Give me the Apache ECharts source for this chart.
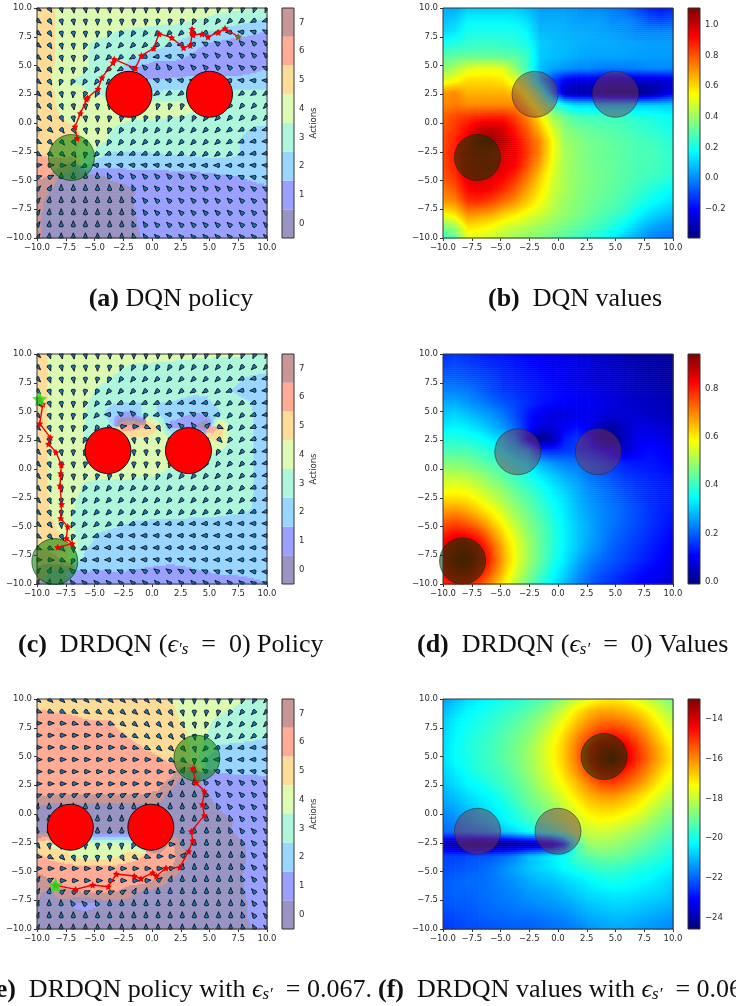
<!DOCTYPE html>
<html><head><meta charset="utf-8">
<style>html,body{margin:0;padding:0;background:#fff}#c{width:736px;height:1006px;filter:blur(0.3px)}</style>
<script src="https://cdn.jsdelivr.net/npm/echarts@6/dist/echarts.min.js"></script>
</head><body><div id="c"></div>
<script>
// ---- sampling positions of the 20x20 state grid (x axis, and y axis top to bottom)
const gridX = [-10,-8.947,-7.895,-6.842,-5.789,-4.737,-3.684,-2.632,-1.579,-0.526,0.526,1.579,2.632,3.684,4.737,5.789,6.842,7.895,8.947,10];
const gridY = [10,8.947,7.895,6.842,5.789,4.737,3.684,2.632,1.579,0.526,-0.526,-1.579,-2.632,-3.684,-4.737,-5.789,-6.842,-7.895,-8.947,-10];
// ---- tick labels
const axisTicks = [-10,-7.5,-5,-2.5,0,2.5,5,7.5,10];
const actionTicks = [0,1,2,3,4,5,6,7];
const ticksB = [-0.2,0,0.2,0.4,0.6,0.8,1.0];
const ticksD = [0,0.2,0.4,0.6,0.8];
const ticksF = [-24,-22,-20,-18,-16,-14];
const rangeB = [-0.39,1.11], rangeD = [-0.008,0.942], rangeF = [-24.58,-12.99];
const actionColors = ['#9a94c2','#9aa0ff','#99d6ff','#adf6dc','#dcfab1','#fddc98','#ffab95','#c89695'];

// ---- action read at each grid point (0 up, 1 up-left, 2 left ... 7 up-right)
const policyA = [
[5.2,4.7,4.3,4.2,4.2,4.1,4.1,4.0,4.0,4.0,4.0,3.9,3.9,3.9,3.8,3.8,3.7,3.7,3.6,3.5],
[5.2,4.7,4.3,4.2,4.1,4.0,4.0,4.0,3.9,3.9,3.8,3.8,3.7,3.5,3.4,3.2,3.0,2.8,2.6,2.4],
[5.2,4.7,4.3,4.2,4.1,3.9,3.6,3.4,3.3,3.2,3.1,3.0,2.9,2.8,2.5,2.3,2.0,1.8,1.6,1.4],
[5.2,4.7,4.3,4.1,3.6,3.2,3.1,3.0,3.0,2.9,2.7,2.5,2.2,1.8,1.4,1.2,1.1,1.0,1.0,1.0],
[5.2,4.7,4.3,4.1,3.6,3.2,3.0,2.9,2.7,2.4,2.2,1.9,1.6,1.3,1.1,1.0,1.0,1.0,1.0,1.0],
[5.2,4.7,4.2,4.0,3.6,3.2,2.9,2.6,1.5,1.0,0.3,0.9,1.0,1.0,1.0,1.0,1.0,1.1,1.3,1.5],
[5.2,4.7,3.6,3.4,3.3,3.2,3.0,2.8,1.8,1.6,1.6,1.7,1.7,1.8,1.8,1.8,1.8,1.8,1.9,1.9],
[5.1,4.7,4.3,3.9,3.6,3.4,3.2,3.0,2.7,2.7,2.7,2.7,2.7,2.7,2.7,2.7,2.7,2.7,2.7,2.7],
[5.1,4.6,4.4,4.2,4.1,4.0,3.9,3.8,3.8,3.8,3.7,3.7,3.7,3.6,3.3,3.2,3.1,3.1,3.0,3.0],
[5.1,4.7,4.5,4.2,4.1,4.0,3.8,3.7,3.6,3.6,3.6,3.5,3.5,3.4,3.2,3.0,3.0,3.0,3.0,3.0],
[5.7,5.1,4.8,4.6,4.3,4.1,3.6,3.3,3.2,3.2,3.1,3.1,3.1,3.0,3.0,3.0,2.8,2.6,2.4,2.3],
[5.4,5.0,4.9,4.7,4.4,3.9,3.3,3.1,3.1,3.0,3.0,3.0,3.0,3.0,3.0,2.9,2.7,2.4,2.2,2.1],
[5.3,5.2,5.1,4.7,3.8,3.0,2.45,2.45,2.45,2.45,2.5,2.6,2.6,2.7,2.8,2.8,2.8,2.4,2.2,2.2],
[6.2,6.1,6.0,7.5,2.6,1.9,1.8,1.8,1.8,1.8,1.8,1.9,1.9,1.9,2.0,2.0,2.0,2.0,1.9,1.9],
[6.4,6.5,0.0,0.0,0.0,0.1,0.6,0.8,0.9,1.0,1.0,1.0,1.0,1.1,1.2,1.3,1.4,1.5,1.7,1.8],
[7.0,7.4,0.0,0.0,0.0,0.0,0.1,0.2,0.45,0.8,1.0,1.0,1.0,1.0,1.0,1.0,1.0,1.1,1.2,1.3],
[7.1,7.8,0.0,0.0,0.0,0.0,0.0,0.1,0.5,0.9,1.0,1.0,1.0,1.0,1.0,1.0,1.0,1.0,1.1,1.2],
[7.2,7.9,0.0,0.0,0.0,0.0,0.0,0.0,0.45,0.8,1.0,1.0,1.0,1.0,1.0,1.0,1.0,1.0,1.0,1.1],
[7.2,7.9,0.0,0.0,0.0,0.0,0.0,0.0,0.4,0.7,1.0,1.0,1.0,1.0,1.0,1.0,1.0,1.0,1.0,1.0],
[7.2,7.9,0.0,0.0,0.0,0.0,0.0,0.0,0.3,0.7,1.0,1.0,1.0,1.0,1.0,1.0,1.0,1.0,1.0,1.0]];
const policyC = [
[5.0,4.4,4.3,4.2,4.2,4.1,4.1,4.0,4.0,4.0,3.9,3.8,3.8,3.7,3.7,3.6,3.6,3.6,3.5,3.5],
[5.0,4.4,4.3,4.2,4.1,4.0,3.9,3.6,3.4,3.3,3.3,3.3,3.2,3.2,3.2,3.1,3.1,3.1,3.0,3.0],
[5.0,4.4,4.3,4.2,4.0,3.8,3.5,3.2,3.1,3.0,3.0,3.0,3.0,3.0,3.0,3.0,2.8,2.5,2.3,2.2],
[5.0,4.4,4.3,4.1,3.8,3.4,3.1,3.0,3.0,3.0,3.0,3.0,2.9,2.7,2.7,2.9,2.5,2.2,2.1,2.1],
[5.0,4.4,4.2,4.0,3.6,3.2,2.7,2.5,2.5,2.5,2.5,2.5,2.3,2.2,2.3,2.8,2.9,2.7,2.4,2.2],
[5.0,4.4,4.2,3.9,3.5,3.0,2.0,1.3,1.0,3.5,2.3,1.9,1.6,1.4,1.5,2.3,3.0,3.0,2.4,2.2],
[5.0,4.4,4.2,3.9,3.5,3.3,3.0,6.2,6.1,5.5,4.6,1.2,1.1,0.8,7.0,5.5,3.2,3.0,2.4,2.2],
[5.0,4.4,4.2,4.0,3.4,3.6,3.8,4.0,4.2,4.3,4.1,3.9,4.0,4.0,4.2,5.0,3.2,3.0,2.4,2.2],
[5.0,4.4,4.2,4.0,3.6,3.8,3.9,4.0,4.1,4.1,4.0,3.7,3.7,3.8,3.8,3.4,3.1,3.0,2.4,2.2],
[5.0,4.4,4.2,4.1,3.8,3.9,3.9,4.0,4.0,4.0,3.9,3.7,3.6,3.5,3.4,3.2,3.0,3.0,2.4,2.2],
[5.0,4.4,4.2,4.1,3.7,3.7,3.8,3.8,3.7,3.7,3.5,3.2,3.1,3.1,3.1,3.0,3.0,3.0,2.4,2.2],
[5.0,4.4,4.2,3.9,3.3,3.2,3.1,3.1,3.0,3.0,3.0,3.0,3.0,3.0,3.0,3.0,3.0,3.0,2.4,2.3],
[5.0,4.5,4.1,3.6,3.2,3.1,3.0,3.0,3.0,3.0,3.0,3.0,3.0,3.0,3.0,3.0,3.0,3.0,2.4,2.3],
[5.1,4.5,4.1,3.5,3.2,3.0,3.0,3.0,3.0,3.0,3.0,3.0,3.0,2.9,2.9,2.8,2.7,2.6,2.4,2.3],
[5.2,4.8,4.1,3.4,3.1,2.9,2.8,2.6,2.4,2.3,2.2,2.2,2.2,2.1,2.1,2.1,2.0,2.0,2.0,2.0],
[5.3,5.0,4.6,3.6,2.9,2.4,2.2,2.0,2.0,2.0,2.0,2.0,2.0,2.0,2.0,2.0,2.0,2.0,2.0,2.0],
[5.5,5.4,5.0,4.1,2.6,2.2,2.0,2.0,2.0,2.0,2.0,2.0,2.0,2.0,2.0,2.0,2.0,2.0,2.0,2.0],
[6.0,5.9,5.5,3.5,2.1,2.0,2.0,2.0,2.0,1.9,1.8,1.7,1.7,1.8,1.9,2.0,2.0,2.0,2.0,2.0],
[7.0,7.5,0.2,1.0,1.5,1.4,1.5,1.5,1.4,1.3,1.2,1.2,1.3,1.4,1.5,1.6,1.7,1.7,1.8,1.9],
[7.5,7.8,0.1,0.8,1.0,1.0,1.0,1.0,1.0,1.0,1.0,1.0,1.0,1.0,1.0,1.0,1.0,1.1,1.3,1.4]];
const policyE = [
[5.1,5.1,5.0,5.0,5.0,5.0,5.0,5.0,4.9,4.9,4.8,4.5,4.2,4.0,4.0,4.0,3.9,3.6,3.4,3.1],
[5.6,5.5,5.4,5.4,5.3,5.2,5.2,5.1,5.1,5.0,5.0,4.7,4.3,4.0,3.9,3.7,3.4,3.1,3.0,3.0],
[6.0,6.0,5.9,5.7,5.6,5.6,5.6,5.2,5.1,5.0,4.9,4.8,4.5,4.2,3.7,3.2,3.0,3.0,3.0,3.0],
[6.0,6.0,6.0,6.0,6.0,6.0,5.8,5.6,5.3,5.1,5.0,4.9,4.7,4.2,3.5,3.0,2.9,2.9,2.8,2.7],
[6.0,6.0,6.0,6.0,6.0,6.0,6.0,5.9,5.7,5.4,5.1,5.0,4.9,4.3,3.0,2.4,2.3,2.2,2.1,2.0],
[6.0,6.0,6.0,6.0,6.0,6.0,6.0,6.0,6.0,6.0,5.7,5.3,5.2,4.0,2.5,2.0,2.0,2.0,2.0,2.0],
[6.0,6.0,6.0,6.0,6.0,6.0,6.0,6.0,6.0,6.0,6.0,5.9,7.4,0.0,1.3,1.6,1.6,1.7,1.7,1.8],
[6.0,6.0,6.0,6.0,6.0,6.0,6.0,6.0,6.0,6.0,6.1,7.0,0.0,0.1,0.8,1.0,1.0,1.0,1.0,1.0],
[6.4,6.5,6.6,6.6,6.6,6.6,6.6,6.6,6.6,6.6,6.8,0.0,0.0,0.0,0.4,0.8,1.0,1.0,1.0,1.0],
[7.7,0.0,0.0,0.0,0.0,0.0,0.0,0.0,0.0,0.0,0.0,0.0,0.0,0.0,0.2,0.5,0.9,1.0,1.0,1.0],
[0.0,0.0,0.0,0.0,0.0,0.0,0.0,0.0,0.0,0.0,0.0,0.0,0.0,0.0,0.0,0.2,0.4,0.9,1.0,1.0],
[0.0,0.0,0.0,0.0,0.0,0.0,0.0,0.0,0.0,0.0,0.0,0.0,0.0,0.0,0.0,0.0,0.45,0.8,1.0,1.0],
[4.8,4.2,4.0,4.0,4.0,4.0,4.0,4.0,3.5,0.2,0.0,6.0,7.8,0.0,0.0,0.0,0.0,0.4,1.0,1.0],
[5.8,5.3,5.0,4.4,4.0,4.0,4.1,4.6,5.2,5.6,6.0,6.0,7.0,0.0,0.0,0.0,0.0,0.3,1.0,1.0],
[6.0,6.0,6.0,6.0,6.0,6.0,6.0,6.0,6.0,6.0,6.0,6.2,7.8,0.0,0.0,0.0,0.0,0.45,1.0,1.0],
[7.2,6.6,6.0,6.0,6.0,6.0,6.0,6.0,6.0,6.1,6.8,7.6,0.0,0.0,0.0,0.0,0.0,0.5,0.9,1.0],
[7.3,7.8,6.8,6.6,6.5,6.4,6.4,6.7,7.4,7.8,0.0,0.0,0.0,0.0,0.0,0.0,0.0,0.4,0.9,1.0],
[7.5,0.0,0.1,0.7,1.0,0.6,0.0,0.0,0.0,0.0,0.0,0.0,0.0,0.0,0.0,0.0,0.0,0.3,0.8,1.0],
[7.5,0.0,0.0,0.0,0.0,0.0,0.0,0.0,0.0,0.0,0.0,0.0,0.0,0.0,0.0,0.0,0.0,0.3,0.8,1.0],
[7.4,0.0,0.0,0.0,0.0,0.0,0.0,0.0,0.0,0.0,0.0,0.0,0.0,0.0,0.0,0.0,0.0,0.2,0.6,0.9]];

// ---- state values read at each grid point
const valuesB = [
[.05,.05,.1,.1,.1,.1,.1,.07,.03,.03,.03,.02,.0,.0,-.02,-.05,-.1,-.15,-.18,-.15],
[.08,.1,.16,.16,.16,.16,.15,.12,.05,.05,.05,.03,.03,.03,.0,.0,-.03,-.08,-.1,-.08],
[.12,.14,.2,.2,.2,.2,.2,.16,.07,.07,.06,.05,.05,.04,.03,.02,.0,.0,.0,.0],
[.2,.22,.24,.25,.25,.24,.23,.2,.1,.08,.07,.06,.05,.05,.05,.04,.04,.03,.03,.03],
[.3,.32,.32,.32,.32,.31,.3,.25,.1,.08,.07,.05,.04,.04,.04,.04,.03,.03,.03,.03],
[.38,.42,.5,.52,.52,.5,.38,.25,.08,.04,.02,.0,.0,-.02,-.02,-.02,-.01,.0,.0,.0],
[.5,.55,.6,.6,.6,.58,.5,.35,.1,-.1,-.22,-.25,-.25,-.25,-.28,-.28,-.28,-.28,-.28,-.25],
[.7,.72,.66,.66,.66,.66,.62,.5,.3,.0,-.3,-.33,-.33,-.36,-.38,-.38,-.38,-.36,-.3,-.22],
[.72,.74,.72,.72,.72,.72,.72,.6,.45,.28,.18,.12,.12,.1,.1,.1,.1,.1,.1,.1],
[.78,.82,.85,.87,.88,.88,.82,.72,.58,.42,.34,.28,.27,.27,.26,.25,.23,.22,.2,.18],
[.8,.85,.92,1.0,1.02,.98,.88,.78,.65,.5,.38,.34,.32,.3,.3,.28,.26,.24,.22,.2],
[.82,.88,.98,1.08,1.08,1.02,.93,.82,.72,.55,.4,.38,.34,.33,.31,.3,.28,.27,.25,.22],
[.82,.9,1,1.02,1.0,.98,.94,.84,.72,.55,.42,.38,.35,.33,.32,.3,.28,.28,.26,.24],
[.82,.88,.98,1.0,1.0,.96,.92,.8,.68,.52,.42,.38,.35,.33,.32,.3,.28,.28,.26,.24],
[.8,.85,.96,.98,.96,.92,.85,.74,.62,.5,.42,.38,.36,.34,.32,.3,.28,.26,.25,.22],
[.74,.8,.92,.94,.92,.86,.78,.68,.58,.48,.42,.38,.35,.33,.31,.29,.26,.23,.2,.17],
[.7,.72,.85,.86,.82,.76,.7,.62,.54,.46,.4,.37,.34,.32,.3,.27,.23,.19,.16,.13],
[.55,.6,.72,.7,.68,.62,.58,.52,.48,.43,.39,.36,.33,.3,.27,.24,.18,.13,.1,.07],
[.38,.42,.6,.58,.55,.5,.47,.44,.41,.38,.35,.32,.29,.26,.22,.17,.11,.06,.03,.01],
[.25,.32,.5,.5,.47,.43,.4,.38,.36,.33,.3,.27,.24,.2,.16,.1,.05,.0,-.02,-.03]];
const valuesD = [
[.15,.16,.15,.14,.13,.13,.12,.11,.11,.1,.09,.08,.07,.06,.05,.04,.03,.03,.02,.02],
[.17,.18,.17,.16,.15,.14,.13,.12,.11,.1,.1,.09,.08,.07,.06,.05,.04,.03,.03,.02],
[.2,.2,.19,.18,.17,.15,.14,.13,.12,.11,.1,.09,.08,.07,.07,.06,.05,.04,.03,.03],
[.23,.23,.22,.2,.18,.16,.15,.14,.13,.12,.11,.1,.09,.08,.07,.06,.05,.05,.04,.03],
[.27,.27,.25,.23,.21,.19,.17,.15,.13,.12,.11,.1,.1,.09,.08,.07,.06,.05,.05,.04],
[.3,.31,.29,.27,.25,.22,.18,.13,.1,.08,.08,.09,.1,.08,.07,.07,.07,.06,.05,.05],
[.33,.34,.33,.31,.28,.25,.2,.13,.08,.08,.1,.12,.1,.05,.03,.06,.08,.08,.07,.06],
[.38,.38,.37,.36,.33,.3,.24,.1,.0,.03,.13,.16,.12,.02,.01,.05,.1,.1,.09,.08],
[.42,.42,.42,.4,.38,.34,.3,.27,.16,.15,.16,.17,.15,.13,.09,.07,.1,.12,.11,.1],
[.47,.47,.46,.44,.42,.4,.36,.33,.28,.25,.23,.22,.2,.18,.16,.14,.13,.13,.12,.11],
[.52,.52,.51,.49,.46,.43,.4,.37,.33,.3,.27,.25,.22,.2,.18,.16,.15,.14,.13,.12],
[.56,.57,.56,.53,.5,.47,.43,.4,.37,.33,.3,.27,.24,.22,.2,.18,.16,.15,.14,.13],
[.62,.62,.61,.58,.54,.5,.46,.43,.39,.35,.32,.28,.25,.23,.21,.19,.17,.15,.14,.13],
[.68,.69,.67,.63,.59,.54,.49,.45,.41,.37,.33,.29,.26,.24,.22,.2,.18,.16,.14,.13],
[.74,.76,.74,.7,.64,.58,.52,.47,.43,.38,.34,.3,.27,.24,.22,.2,.18,.16,.14,.12],
[.8,.83,.82,.78,.7,.62,.55,.49,.44,.39,.34,.3,.27,.24,.21,.19,.17,.15,.13,.11],
[.84,.89,.9,.84,.75,.65,.57,.5,.44,.39,.34,.3,.26,.23,.2,.18,.16,.14,.12,.1],
[.85,.91,.93,.86,.77,.66,.57,.5,.44,.38,.33,.28,.24,.21,.19,.17,.15,.13,.11,.09],
[.83,.88,.88,.82,.74,.64,.55,.48,.42,.36,.31,.26,.22,.19,.17,.15,.13,.11,.1,.08],
[.78,.82,.81,.76,.68,.6,.52,.45,.39,.34,.29,.24,.2,.17,.15,.13,.11,.1,.08,.07]];
const valuesF = [
[-21.3,-21.0,-20.6,-20.4,-20.2,-20,-19.8,-19.6,-19.3,-19,-18.5,-18,-17.6,-17.3,-17.2,-17.3,-17.6,-18,-18.5,-18.9],
[-21,-20.6,-20.3,-20.1,-19.9,-19.7,-19.5,-19.2,-18.9,-18.4,-17.8,-17.1,-16.6,-16.3,-16.3,-16.5,-16.8,-17.3,-17.9,-18.4],
[-20.8,-20.4,-20.1,-19.9,-19.7,-19.5,-19.2,-18.9,-18.5,-18,-17.3,-16.6,-16,-15.6,-15.5,-15.7,-16.1,-16.7,-17.4,-18],
[-20.7,-20.3,-20,-19.8,-19.6,-19.3,-19,-18.7,-18.2,-17.6,-16.9,-16.1,-15.4,-14.8,-14.6,-14.9,-15.5,-16.2,-17,-17.6],
[-20.6,-20.2,-19.9,-19.7,-19.5,-19.2,-18.9,-18.5,-18,-17.4,-16.7,-15.8,-14.8,-14,-13.7,-14.2,-15,-15.8,-16.6,-17.3],
[-20.6,-20.2,-20,-19.7,-19.5,-19.2,-18.9,-18.5,-18,-17.4,-16.7,-15.8,-14.7,-13.6,-13.05,-13.9,-14.9,-15.7,-16.5,-17.2],
[-20.7,-20.4,-20.1,-19.8,-19.6,-19.4,-19,-18.6,-18.1,-17.6,-16.9,-16.1,-15.2,-14.4,-14.2,-14.8,-15.4,-16.1,-16.9,-17.4],
[-20.9,-20.6,-20.3,-20.1,-19.8,-19.5,-19.2,-18.8,-18.3,-17.8,-17.2,-16.6,-15.9,-15.3,-15.2,-15.5,-16,-16.6,-17.3,-17.8],
[-21.1,-20.9,-20.6,-20.4,-20.2,-19.8,-19.4,-19,-18.6,-18.2,-17.6,-17,-16.5,-16.2,-16.1,-16.4,-16.8,-17.3,-17.8,-18.2],
[-21.4,-21.2,-20.9,-20.6,-20.4,-20.1,-19.7,-19.2,-18.9,-18.5,-18,-17.5,-17,-16.8,-16.8,-17,-17.3,-17.8,-18.3,-18.6],
[-21.7,-21.5,-21.2,-20.9,-20.7,-20.3,-20,-19.6,-19.2,-18.7,-18.2,-17.9,-17.5,-17.3,-17.4,-17.6,-17.9,-18.3,-18.7,-19],
[-22,-21.8,-21.6,-21.5,-21.3,-20.9,-20.6,-20.2,-20,-19.6,-19,-18.3,-18,-17.9,-18,-18.2,-18.5,-18.8,-19.1,-19.4],
[-24,-24.2,-24.5,-24.5,-24.5,-24.5,-24.3,-24.2,-24,-23.8,-22.5,-19.5,-18.5,-18.4,-18.5,-18.7,-18.9,-19.2,-19.5,-19.8],
[-22.4,-22.4,-22.3,-22.2,-22.1,-21.9,-21.6,-21,-20.7,-20.4,-20.1,-19.5,-19.2,-19,-19,-19.1,-19.4,-19.6,-19.8,-20.1],
[-22.3,-22.2,-22.1,-22,-21.8,-21.5,-21.2,-20.9,-20.7,-20.5,-20.2,-20,-19.8,-19.6,-19.6,-19.7,-19.9,-20,-20.2,-20.4],
[-22.1,-22,-21.9,-21.9,-21.8,-21.6,-21.4,-21.2,-21,-20.9,-20.7,-20.5,-20.3,-20.1,-20,-20.1,-20.2,-20.3,-20.5,-20.7],
[-22.1,-22,-22,-21.9,-21.8,-21.7,-21.6,-21.4,-21.3,-21.2,-21,-20.8,-20.6,-20.5,-20.4,-20.4,-20.5,-20.6,-20.7,-20.9],
[-22.2,-22.1,-22.1,-22,-21.9,-21.8,-21.7,-21.6,-21.5,-21.4,-21.3,-21.1,-20.9,-20.8,-20.7,-20.7,-20.8,-20.9,-21,-21.1],
[-22.4,-22.3,-22.2,-22.1,-22,-22,-21.9,-21.9,-21.8,-21.7,-21.6,-21.4,-21.2,-21.1,-21,-21,-21.1,-21.2,-21.3,-21.4],
[-22.6,-22.4,-22.3,-22.3,-22.2,-22.1,-22.1,-22.1,-22,-21.9,-21.8,-21.7,-21.5,-21.3,-21.2,-21.2,-21.3,-21.4,-21.5,-21.6]];

// ---- obstacles and goals: [x, y, radius]
const obstaclesA = [[-2,2.5,2],[5,2.5,2]], goalA = [[-7,-3,2]];
const obstaclesB = [[-2,2.5,2],[5,2.5,2]], goalB = [[-7,-3,2]];
const obstaclesC = [[-3.83,1.6,2],[3.17,1.6,2]], goalC = [[-8.45,-8.05,2]];
const obstaclesD = [[-3.5,1.5,2],[3.5,1.5,2]], goalD = [[-8.3,-8,2]];
const obstaclesE = [[-7.1,-1.15,2],[-0.1,-1.15,2]], goalE = [[3.9,4.85,2]];
const obstaclesF = [[-7,-1.5,2],[0,-1.5,2]], goalF = [[4,5,2]];

// ---- trajectories
const trajA = [[7.5,7.5],[6.35,8.23],[5.77,7.88],[4.87,7.48],[4.35,7.74],[3.57,7.65],[3.48,8.17],[3.5,7.8],[3.33,6.75],[2.75,6.55],[1.71,7.42],[0.61,7.77],[0.14,6.49],[-0.93,5.86],[-1.45,4.75],[-3.28,5.54],[-3.39,5.25],[-4.35,3.94],[-4.7,2.96],[-5.6,2.2],[-5.71,2.06],[-6.23,0.84],[-6.7,-0.32],[-6.52,-1.33]];
const trajC = [[-9.77,6.09],[-9.5,5.62],[-9.77,3.94],[-8.84,2.75],[-8.99,2.17],[-8.35,1.45],[-7.88,0.35],[-7.94,-0.38],[-8,-1.45],[-7.86,-3.07],[-7.94,-4.29],[-7.33,-5.01],[-7.45,-6.03],[-6.93,-6.49],[-8.2,-6.81]];
const trajE = [[-8.38,-6.2],[-6.64,-6.55],[-5.16,-6.17],[-3.8,-6.32],[-3.1,-5.22],[-1.54,-5.39],[-0.96,-5.62],[0.06,-5.1],[0.38,-5.39],[1.22,-4.7],[2.41,-4.64],[3.19,-3.25],[3.54,-2.32],[3.42,-1.51],[4.55,-0.12],[4.38,0.84],[4.55,1.97],[3.83,2.72],[3.54,3.94]];

// ---- helpers
[policyA,policyC,policyE,valuesB,valuesD,valuesF].forEach((g,k)=>{ if(g.length!==20) throw new Error('rows '+k); g.forEach((r,j)=>{ if(r.length!==20) throw new Error('cols '+k+' row '+j+' '+r.length); }); });
const STAR='path://M12 2L15.09 8.26L22 9.27L17 14.14L18.18 21.02L12 17.77L5.82 21.02L7 14.14L2 9.27L8.91 8.26Z';
const clamp=v=>Math.max(0,Math.min(1,v));
function jet(n){ n=clamp(n);
  const r=clamp(Math.min(4*n-1.5,-4*n+4.5)),g=clamp(Math.min(4*n-0.5,-4*n+3.5)),b=clamp(Math.min(4*n+0.5,-4*n+2.5));
  return 'rgb('+Math.round(r*255)+','+Math.round(g*255)+','+Math.round(b*255)+')'; }
const fmt=v=>String(v).replace('-','\u2212');
const fmt1=v=>v.toFixed(1).replace('-','\u2212');
const flat=g=>{const o=[];g.forEach((row,j)=>row.forEach((v,i)=>o.push([gridX[i],gridY[j],v,i,j])));return o;};

function policyField(grid){
  const N=8;
  return (params,api)=>{
    const i=api.value(3),j=api.value(4);
    if(i>=19||j>=19) return null;
    const p0=api.coord([gridX[i],gridY[j]]),p1=api.coord([gridX[i+1],gridY[j+1]]);
    const base=grid[j][i],un=v=>v+8*Math.round((base-v)/8);
    const a=base,b=un(grid[j][i+1]),c=un(grid[j+1][i]),d=un(grid[j+1][i+1]);
    const w=(p1[0]-p0[0])/N,h=(p1[1]-p0[1])/N,kids=[];
    for(let r=0;r<N;r++){
      let start=0,cur=-1;
      for(let s=0;s<=N;s++){
        let cls=-2;
        if(s<N){const u=(s+.5)/N,t=(r+.5)/N;
          const v=a*(1-u)*(1-t)+b*u*(1-t)+c*(1-u)*t+d*u*t;
          cls=((Math.round(v)%8)+8)%8;}
        if(cls!==cur){
          if(cur>=0) kids.push({type:'rect',shape:{x:p0[0]+start*w,y:p0[1]+r*h,width:(s-start)*w+.6,height:h+.6},style:{fill:actionColors[cur]},silent:true});
          start=s;cur=cls;
        }
      }
    }
    return {type:'group',children:kids};
  };
}
function valueField(grid,range){
  const N=6,lo=range[0],sp=range[1]-range[0];
  return (params,api)=>{
    const i=api.value(3),j=api.value(4);
    if(i>=19||j>=19) return null;
    const p0=api.coord([gridX[i],gridY[j]]),p1=api.coord([gridX[i+1],gridY[j+1]]);
    const a=grid[j][i],b=grid[j][i+1],c=grid[j+1][i],d=grid[j+1][i+1];
    const w=p1[0]-p0[0],h=(p1[1]-p0[1])/N,kids=[];
    for(let r=0;r<N;r++){
      const t=(r+.5)/N,L=a*(1-t)+c*t,R=b*(1-t)+d*t,stops=[];
      for(let s=0;s<=4;s++){const u=s/4;stops.push({offset:u,color:jet((L*(1-u)+R*u-lo)/sp)});}
      kids.push({type:'rect',shape:{x:p0[0],y:p0[1]+r*h,width:w+.6,height:h+.6},style:{fill:new echarts.graphic.LinearGradient(0,0,1,0,stops)},silent:true});
    }
    return {type:'group',children:kids};
  };
}
const ARROW=[[-1,0],[-0.8,-1.7],[0.6,-2.1],[2,-1.2],[5.2,0],[2,1.2],[0.6,2.1],[-0.8,1.7]];
function arrowItem(params,api){
  const p=api.coord([api.value(0),api.value(1)]),th=(90+45*api.value(2))*Math.PI/180;
  const c=Math.cos(th),s=-Math.sin(th);
  const pts=ARROW.map(q=>[p[0]+q[0]*c-q[1]*s,p[1]+q[0]*s+q[1]*c]);
  const rect=params.coordSys;
  return {type:'polygon',shape:{points:echarts.graphic.clipPointsByRect(pts,{x:rect.x,y:rect.y,width:rect.width,height:rect.height})},style:{fill:'#1f77b4',stroke:'#0c0c14',lineWidth:0.9}};
}
function circleItem(fill,stroke,lw){
  return (params,api)=>{
    const p=api.coord([api.value(0),api.value(1)]),s=api.size([api.value(2),api.value(2)]);
    return {type:'circle',shape:{cx:p[0],cy:p[1],r:s[0]},style:{fill:fill,stroke:stroke,lineWidth:lw}};
  };
}
function frameItem(params){const r=params.coordSys;return {type:'rect',shape:{x:r.x,y:r.y,width:r.width,height:r.height},style:{fill:'none',stroke:'#333',lineWidth:1}};}

const grids=[],xAxes=[],yAxes=[],series=[];
const labelStyle={color:'#2b2b2b',fontSize:8.5,fontFamily:'DejaVu Sans',margin:5,hideOverlap:false,showMinLabel:true,showMaxLabel:true};
function addMain(left,top){
  const idx=grids.length;
  grids.push({left:left,top:top,width:230,height:230});
  const ax=(pos)=>({type:'value',gridIndex:idx,position:pos,min:-10,max:10,interval:2.5,splitLine:{show:false},
    axisLine:{show:false,onZero:false},axisTick:{show:true,length:3,lineStyle:{color:'#333',width:1}},
    axisLabel:Object.assign({},labelStyle,{formatter:v=>fmt1(v)})});
  xAxes.push(ax('bottom'));yAxes.push(ax('left'));
  return idx;
}
function addBar(left,top,min,max,ticks,format,name){
  const idx=grids.length;
  grids.push({left:left,top:top,width:12,height:230});
  xAxes.push({type:'value',gridIndex:idx,min:0,max:1,show:false});
  yAxes.push({type:'value',gridIndex:idx,position:'right',min:min,max:max,scale:true,splitLine:{show:false},
    axisLine:{show:false},
    name:name||'',nameLocation:'middle',nameGap:15,nameRotate:90,nameTextStyle:{color:'#2b2b2b',fontSize:8.5,fontFamily:'DejaVu Sans'},
    axisTick:{show:true,length:3,lineStyle:{color:'#333'},customValues:ticks},
    axisLabel:Object.assign({},labelStyle,{margin:5,customValues:ticks,formatter:format})});
  return idx;
}
const common=idx=>({xAxisIndex:idx,yAxisIndex:idx,silent:true,animation:false,progressive:0});

function policyPanel(top,grid,obst,goal,traj,endSize,endColor,endIndex){
  const idx=addMain(37,top);
  series.push(Object.assign(common(idx),{type:'custom',z:1,data:flat(grid),renderItem:policyField(grid),encode:{x:0,y:1}}));
  series.push(Object.assign(common(idx),{type:'custom',z:2,data:flat(grid),renderItem:arrowItem,encode:{x:0,y:1}}));
  series.push(Object.assign(common(idx),{type:'custom',z:3,data:goal,renderItem:circleItem('rgba(0,128,0,0.55)','rgba(0,50,0,0.6)',1),encode:{x:0,y:1}}));
  series.push(Object.assign(common(idx),{type:'custom',z:3,data:obst,renderItem:circleItem('#ff0000','#111',1),encode:{x:0,y:1}}));
  series.push(Object.assign(common(idx),{type:'line',z:4,data:traj,symbol:STAR,symbolSize:7,showSymbol:true,showAllSymbol:true,lineStyle:{color:'#f00000',width:1.4},itemStyle:{color:'#f00000'},smooth:false}));
  series.push(Object.assign(common(idx),{type:'scatter',z:5,data:[traj[endIndex]],symbol:STAR,symbolSize:endSize,itemStyle:{color:endColor}}));
  series.push(Object.assign(common(idx),{type:'custom',z:6,data:[[0,0]],renderItem:frameItem,encode:{x:0,y:1}}));
  const b=addBar(282,top,-0.5,7.5,actionTicks,v=>String(v),'Actions');
  series.push(Object.assign(common(b),{type:'custom',z:1,data:actionTicks.map(k=>[0.5,k]),encode:{x:0,y:1},renderItem:(p,api)=>{
    const k=api.value(1),a=api.coord([0,k+.5]),c=api.coord([1,k-.5]);
    return {type:'rect',shape:{x:a[0],y:a[1],width:c[0]-a[0],height:c[1]-a[1]},style:{fill:actionColors[k]}};}}));
  series.push(Object.assign(common(b),{type:'custom',z:6,data:[[0,0]],renderItem:frameItem,encode:{x:0,y:1}}));
}
function valuePanel(top,grid,range,ticks,format,obst,goal){
  const idx=addMain(443,top);
  series.push(Object.assign(common(idx),{type:'custom',z:1,data:flat(grid),renderItem:valueField(grid,range),encode:{x:0,y:1}}));
  series.push(Object.assign(common(idx),{type:'custom',z:3,data:goal,renderItem:circleItem('rgba(0,60,0,0.55)','rgba(0,40,0,0.55)',1),encode:{x:0,y:1}}));
  series.push(Object.assign(common(idx),{type:'custom',z:3,data:obst,renderItem:circleItem('rgba(125,50,75,0.5)','rgba(40,40,40,0.55)',1),encode:{x:0,y:1}}));
  series.push(Object.assign(common(idx),{type:'custom',z:6,data:[[0,0]],renderItem:frameItem,encode:{x:0,y:1}}));
  const b=addBar(688,top,range[0],range[1],ticks,format);
  const stops=[];for(let s=0;s<=16;s++)stops.push({offset:s/16,color:jet(1-s/16)});
  series.push(Object.assign(common(b),{type:'custom',z:1,data:[[0.5,range[0]]],encode:{x:0,y:1},renderItem:(p)=>{
    const r=p.coordSys;return {type:'rect',shape:{x:r.x,y:r.y,width:r.width,height:r.height},style:{fill:new echarts.graphic.LinearGradient(0,0,0,1,stops)}};}}));
  series.push(Object.assign(common(b),{type:'custom',z:6,data:[[0,0]],renderItem:frameItem,encode:{x:0,y:1}}));
}
policyPanel(8,policyA,obstaclesA,goalA,trajA,6,'#2e9e2e',0);
valuePanel(8,valuesB,rangeB,ticksB,fmt1,obstaclesB,goalB);
policyPanel(354,policyC,obstaclesC,goalC,trajC,15,'#1ee81e',0);
valuePanel(354,valuesD,rangeD,ticksD,fmt1,obstaclesD,goalD);
policyPanel(699,policyE,obstaclesE,goalE,trajE,15,'#1ee81e',0);
valuePanel(699,valuesF,rangeF,ticksF,fmt,obstaclesF,goalF);

// ---- captions
const capFont='"Liberation Serif","DejaVu Serif",serif';
const rich={b:{fontWeight:'bold',fontSize:26,fontFamily:capFont,color:'#111'},
  t:{fontSize:26,fontFamily:capFont,color:'#111'},
  e:{fontSize:26,fontStyle:'italic',fontFamily:capFont,color:'#111'},
  s:{fontSize:17,fontStyle:'italic',fontFamily:capFont,color:'#111',verticalAlign:'bottom',padding:[8,0,0,0]}};
function cap(x,y,align,txt){return {type:'text',silent:true,x:x,y:y,z:20,style:{text:txt,rich:rich,align:align,verticalAlign:'middle',fill:'#111',font:'26px '+capFont}};}
const SP='\u00a0';
const captions=[
  cap(171,299,'center','{b|(a)} {t|DQN policy}'),
  cap(575,299,'center','{b|(b)} {t|'+SP+'DQN values}'),
  cap(18,645,'left','{b|(c)} {t|'+SP+'DRDQN (}{e|\u03f5}{s|\u2032s}{t| '+SP+'= '+SP+'0) Policy}'),
  cap(417,645,'left','{b|(d)} {t|'+SP+'DRDQN (}{e|\u03f5}{s|s\u2032}{t| '+SP+'= '+SP+'0) Values}'),
  cap(372,990,'right','{b|(e)} {t|'+SP+'DRDQN policy with }{e|\u03f5}{s|s\u2032}{t| '+SP+'= 0.067.}'),
  cap(378,990,'left','{b|(f)} {t|'+SP+'DRDQN values with }{e|\u03f5}{s|s\u2032}{t| '+SP+'= 0.067.}')
];
const chart=echarts.init(document.getElementById('c'),null,{renderer:'canvas'});
chart.setOption({animation:false,grid:grids,xAxis:xAxes,yAxis:yAxes,series:series,graphic:captions,tooltip:{show:false}});
</script></body></html>
